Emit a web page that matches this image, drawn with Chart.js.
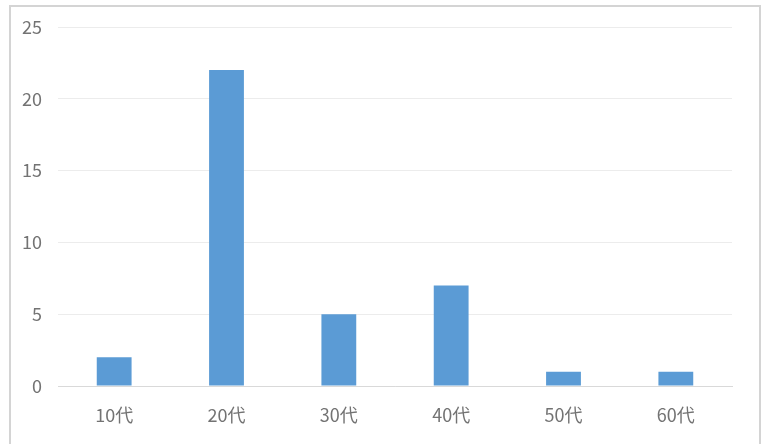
<!DOCTYPE html>
<html>
<head>
<meta charset="utf-8">
<script src="https://cdn.jsdelivr.net/npm/chart.js@4/dist/chart.umd.min.js"></script>
<style>
  html, body { margin: 0; padding: 0; background: #ffffff; }
  #wrap { width: 764px; height: 444px; position: relative; }
</style>
</head>
<body>
<div id="wrap"><canvas id="c"></canvas></div>
<script>
// Age groups and respondent counts
const categories = ['10代', '20代', '30代', '40代', '50代', '60代'];
const counts = [2, 22, 5, 7, 1, 1];
const yTicks = [0, 5, 10, 15, 20, 25];

const labelFont = { family: '"Noto Sans CJK JP", "Noto Sans", sans-serif', size: 18 };
const labelColor = '#737373';

// Thin frame around the chart object
const framePlugin = {
  id: 'frame',
  beforeDraw(chart) {
    const ctx = chart.ctx;
    ctx.save();
    ctx.fillStyle = '#ffffff';
    ctx.fillRect(0, 0, chart.width, chart.height);
    ctx.strokeStyle = '#d4d4d4';
    ctx.lineWidth = 2;
    ctx.strokeRect(10, 6, 750, 460);
    ctx.restore();
  }
};

new Chart(document.getElementById('c'), {
  type: 'bar',
  data: {
    labels: categories,
    datasets: [{
      data: counts,
      backgroundColor: '#5b9bd5',
      borderWidth: 0,
      categoryPercentage: 1.0,
      barPercentage: 0.31
    }]
  },
  options: {
    responsive: true,
    maintainAspectRatio: false,
    animation: false,
    layout: { padding: { left: 10, right: 32, top: 27, bottom: 0 } },
    plugins: { legend: { display: false }, tooltip: { enabled: false } },
    scales: {
      x: {
        grid: { display: false },
        border: { display: true, color: '#d9d9d9', width: 1 },
        ticks: { font: labelFont, color: labelColor, padding: 10, maxRotation: 0 },
        afterFit(scale) { scale.height = 58; }
      },
      y: {
        min: 0,
        max: 25,
        afterBuildTicks(scale) { scale.ticks = yTicks.map(v => ({ value: v })); },
        grid: { color: '#ececec', lineWidth: 1, drawTicks: false },
        border: { display: false },
        ticks: { font: labelFont, color: labelColor, padding: 16 },
        afterFit(scale) { scale.width = 48; }
      }
    }
  },
  plugins: [framePlugin]
});
</script>
</body>
</html>
